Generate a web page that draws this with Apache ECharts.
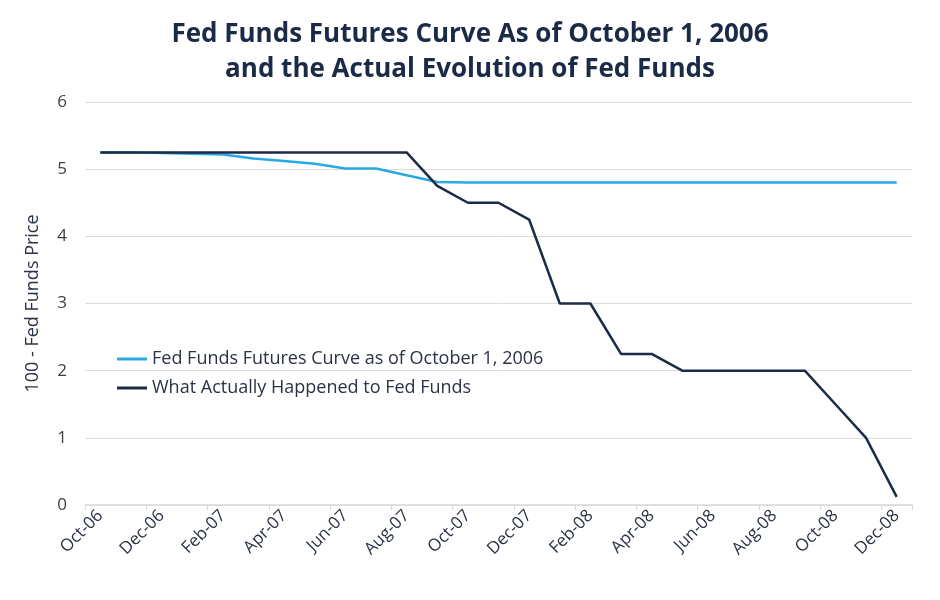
<!DOCTYPE html>
<html>
<head>
<meta charset="utf-8">
<script src="https://cdn.jsdelivr.net/npm/echarts@6/dist/echarts.min.js"></script>
<style>html,body{margin:0;padding:0;background:#fff}#c{width:940px;height:600px}</style>
</head>
<body>
<div id="c"></div>
<script>
const categories = ['Oct-06','Nov-06','Dec-06','Jan-07','Feb-07','Mar-07','Apr-07','May-07','Jun-07','Jul-07','Aug-07','Sep-07','Oct-07','Nov-07','Dec-07','Jan-08','Feb-08','Mar-08','Apr-08','May-08','Jun-08','Jul-08','Aug-08','Sep-08','Oct-08','Nov-08','Dec-08'];
const futuresCurve = [5.25,5.25,5.24,5.23,5.22,5.16,5.12,5.08,5.01,5.01,4.91,4.81,4.80,4.80,4.80,4.80,4.80,4.80,4.80,4.80,4.80,4.80,4.80,4.80,4.80,4.80,4.80];
const actualFedFunds = [5.25,5.25,5.25,5.25,5.25,5.25,5.25,5.25,5.25,5.25,5.25,4.75,4.50,4.50,4.25,3.00,3.00,2.25,2.25,2.00,2.00,2.00,2.00,2.00,1.50,1.00,0.12];
const seriesNames = ['Fed Funds Futures Curve as of October 1, 2006','What Actually Happened to Fed Funds'];
const titleText = 'Fed Funds Futures Curve As of October 1, 2006\nand the Actual Evolution of Fed Funds';

const chart = echarts.init(document.getElementById('c'));
const font = 'Open Sans';
chart.setOption({
  animation: false,
  title: {
    text: titleText, left: 'center', top: 12,
    textStyle: {fontFamily: font, fontSize: 26, fontWeight: 'bold', color: '#1b2a47', lineHeight: 35}
  },
  legend: {
    orient: 'vertical', left: 112, top: 345, itemWidth: 30, itemHeight: 3, itemGap: 11,
    icon: 'rect',
    textStyle: {fontFamily: font, fontSize: 18, color: '#2a3344'},
    data: seriesNames
  },
  grid: {left: 85, right: 28, top: 102, bottom: 95},
  xAxis: {
    type: 'category', data: categories, boundaryGap: true,
    axisLine: {lineStyle: {color: '#d9d9d9', width: 1.5}},
    axisTick: {show: true, interval: 1, length: 5, lineStyle: {color: '#d9d9d9'}},
    axisLabel: {interval: 1, rotate: 45, fontFamily: font, fontSize: 17, color: '#2a3344', margin: 8}
  },
  yAxis: {
    type: 'value', min: 0, max: 6, interval: 1,
    name: '100 - Fed Funds Price', nameLocation: 'middle', nameGap: 43,
    nameTextStyle: {fontFamily: font, fontSize: 18, color: '#2a3344'},
    axisLine: {show: false}, axisTick: {show: false},
    axisLabel: {fontFamily: font, fontSize: 17, color: '#404040', margin: 18},
    splitLine: {lineStyle: {color: '#dcdcdc', width: 1}}
  },
  series: [
    {name: seriesNames[0], type: 'line', data: futuresCurve, symbol: 'none', z: 2,
     lineStyle: {color: '#29a9e1', width: 2.5}, itemStyle: {color: '#29a9e1'}},
    {name: seriesNames[1], type: 'line', data: actualFedFunds, symbol: 'none', z: 3,
     lineStyle: {color: '#1b2a47', width: 2.5}, itemStyle: {color: '#1b2a47'}}
  ]
});
</script>
</body>
</html>
